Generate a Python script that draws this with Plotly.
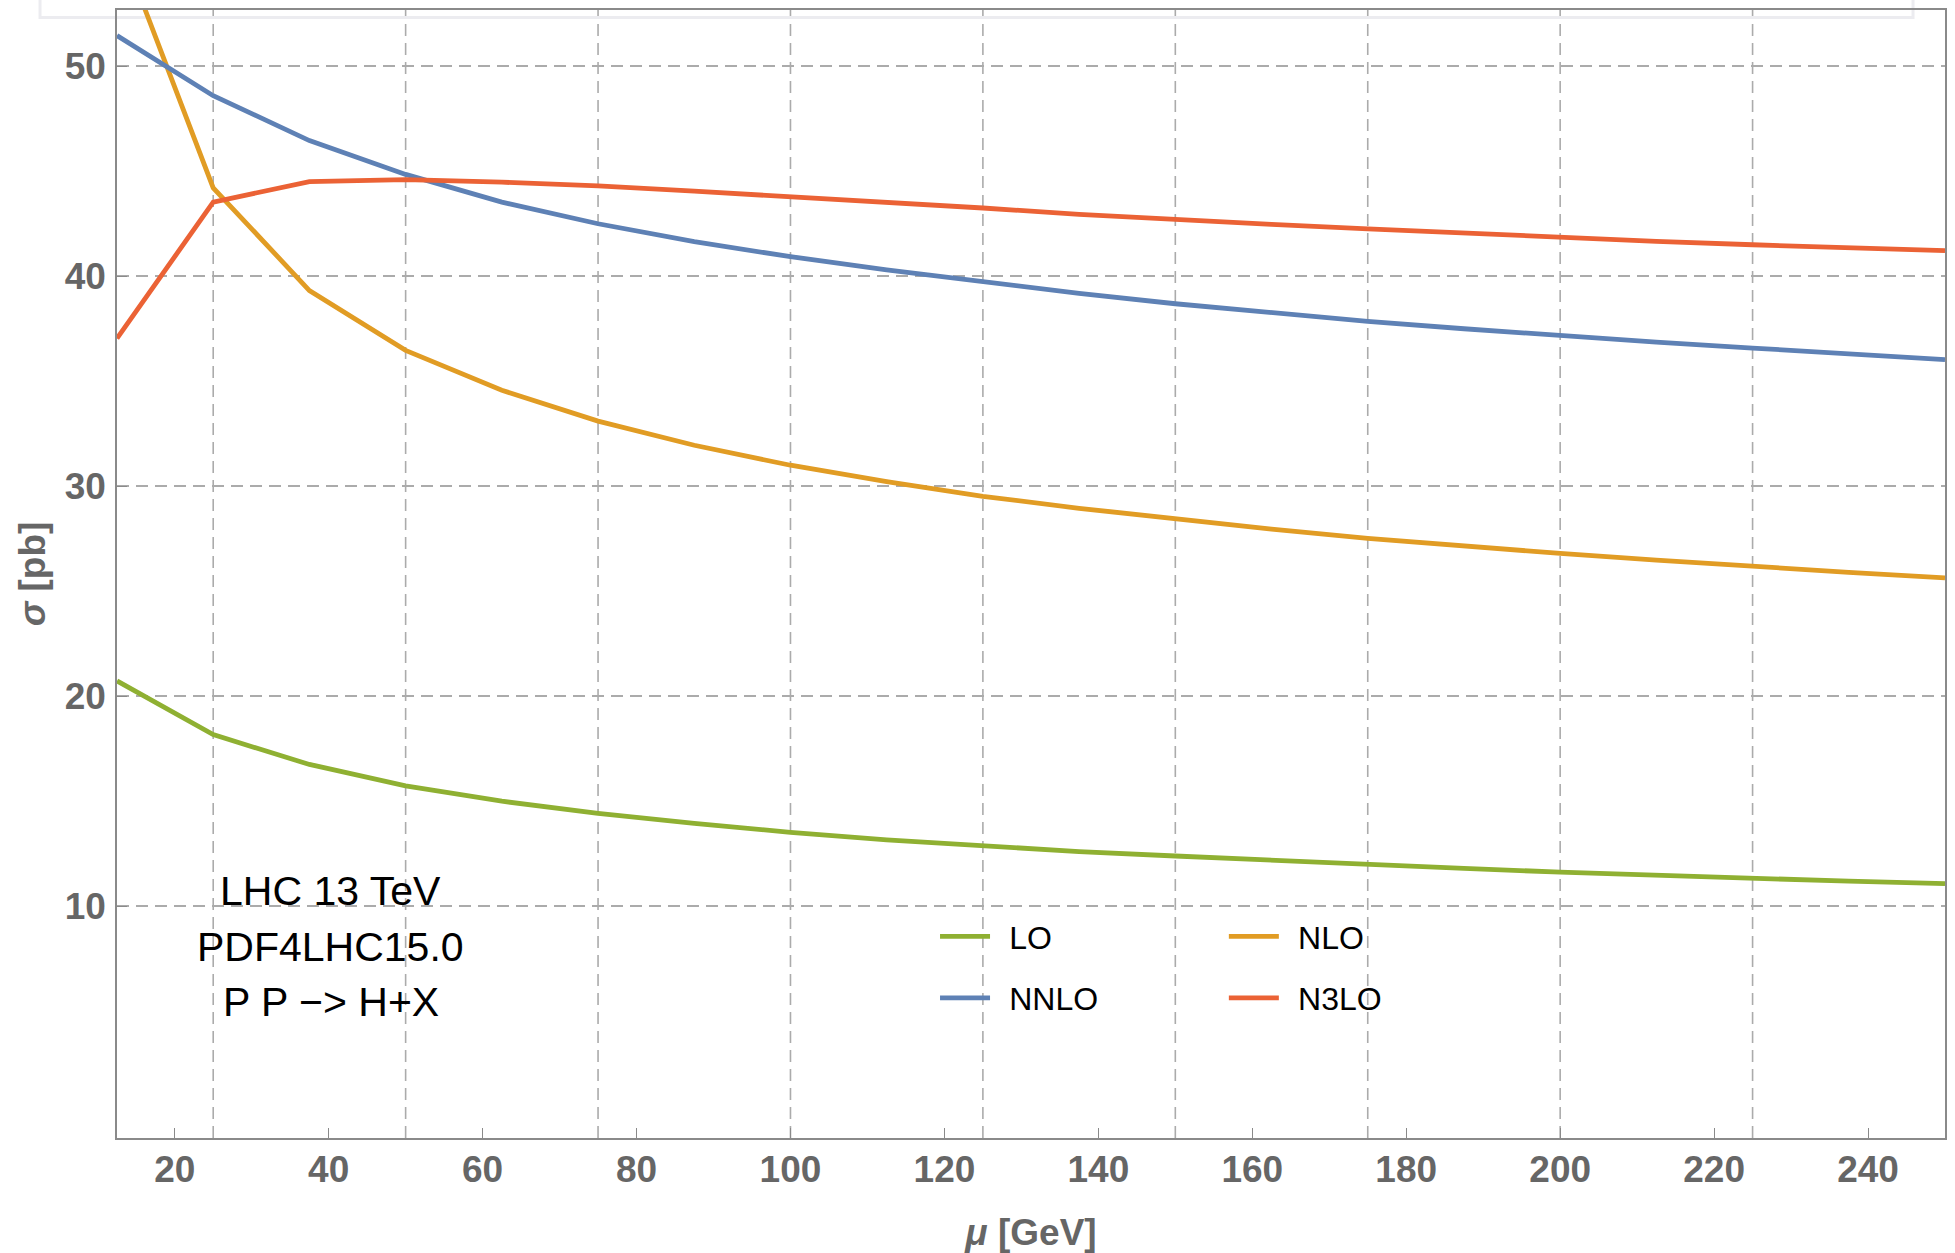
import plotly.graph_objects as go

# scale mu in GeV (multiples of m_H/10)
mu = [12.5, 25, 37.5, 50, 62.5, 75, 87.5, 100, 112.5, 125, 137.5, 150,
      162.5, 175, 187.5, 200, 212.5, 225, 237.5, 250]

lo = [20.73, 18.17, 16.75, 15.73, 15.0, 14.42, 13.94, 13.52, 13.16, 12.86,
      12.6, 12.39, 12.18, 11.99, 11.8, 11.62, 11.46, 11.32, 11.19, 11.07]
nlo = [56.2, 44.21, 39.32, 36.47, 34.57, 33.1, 31.95, 31.0, 30.22, 29.52,
       28.95, 28.43, 27.96, 27.52, 27.15, 26.8, 26.48, 26.18, 25.9, 25.64]
nnlo = [51.46, 48.6, 46.46, 44.85, 43.53, 42.5, 41.65, 40.93, 40.3, 39.72,
        39.19, 38.69, 38.26, 37.85, 37.5, 37.16, 36.86, 36.58, 36.3, 36.03]
n3lo = [37.04, 43.53, 44.51, 44.6, 44.48, 44.3, 44.05, 43.8, 43.5, 43.25,
        42.95, 42.69, 42.47, 42.26, 42.05, 41.82, 41.66, 41.5, 41.36, 41.22]

x_ticks = [20, 40, 60, 80, 100, 120, 140, 160, 180, 200, 220, 240]
y_ticks = [10, 20, 30, 40, 50]
x_grid = [25, 50, 75, 100, 125, 150, 175, 200, 225]
notes = ["LHC 13 TeV", "PDF4LHC15.0", "P P \u2212> H+X"]

C_LO, C_NLO, C_NNLO, C_N3LO = "#8FB032", "#E19C24", "#5E81B5", "#EB6235"
AX = "#8a8a8a"
LAB = "#666666"
GRID = "#ababab"
FONT = "Liberation Sans, Arial"
PAD = "\u00a0\u2006"

fig = go.Figure()
series = [
    ("LO", lo, C_LO, "legend", "g1"),
    ("NNLO", nnlo, C_NNLO, "legend", "g3"),
    ("NLO", nlo, C_NLO, "legend2", "g2"),
    ("N3LO", n3lo, C_N3LO, "legend2", "g4"),
]
order = ["LO", "NLO", "NNLO", "N3LO"]
for name in order:
    for n, ys, c, lg, grp in series:
        if n == name:
            fig.add_trace(go.Scatter(
                x=mu, y=ys, mode="lines", name=PAD + n,
                line=dict(color=c, width=4.8),
                legend=lg, legendgroup=grp, cliponaxis=True,
            ))

# vertical dashed grid lines (at multiples of 25)
for gx in x_grid:
    fig.add_shape(type="line", xref="x", yref="paper", x0=gx, x1=gx, y0=0, y1=1,
                  line=dict(color=GRID, width=1.6, dash="12px,7px"), layer="below")

# faint frame artefact at the top
fig.add_shape(type="rect", xref="paper", yref="paper",
              x0=-0.0421, x1=0.9825, y0=0.9934, y1=1.05,
              line=dict(color="#ececf0", width=3), layer="below")

ann_y = [10.71, 8.05, 5.43]
for t, yy in zip(notes, ann_y):
    fig.add_annotation(x=40.3, y=yy, xref="x", yref="y", text=t, showarrow=False,
                       xanchor="center", yanchor="middle",
                       font=dict(family=FONT, size=41, color="#000000"))

leg_common = dict(yanchor="top", xanchor="left", bgcolor="rgba(0,0,0,0)",
                  borderwidth=0, tracegroupgap=17, itemwidth=50,
                  font=dict(family=FONT, size=32, color="#000000"))
fig.update_layout(
    width=1955, height=1253,
    margin=dict(l=117, r=10, t=10, b=115, autoexpand=False),
    paper_bgcolor="white", plot_bgcolor="white",
    font=dict(family=FONT, color=LAB),
    legend=dict(x=0.4475, y=0.203, **leg_common),
    legend2=dict(x=0.6055, y=0.203, **leg_common),
    showlegend=True,
)

fig.update_xaxes(
    range=[12.5, 250], tickvals=x_ticks, ticktext=[str(v) for v in x_ticks],
    showgrid=False, zeroline=False,
    showline=True, linecolor=AX, linewidth=1.6, mirror=True,
    ticks="inside", ticklen=10, tickwidth=1.4, tickcolor=AX,
    tickfont=dict(family=FONT, size=37, color=LAB, weight="bold"),
    ticklabelstandoff=-2,
    title=dict(text="<i>\u03bc</i> [GeV]", standoff=30,
               font=dict(family=FONT, size=37, color=LAB, weight="bold")),
)
fig.update_yaxes(
    range=[-1.04, 52.68], tickvals=y_ticks, ticktext=[str(v) for v in y_ticks],
    showgrid=True, gridcolor=GRID, gridwidth=1.6, griddash="12px,7px",
    zeroline=False,
    showline=True, linecolor=AX, linewidth=1.6, mirror=True,
    ticks="inside", ticklen=10, tickwidth=1.4, tickcolor=AX,
    tickfont=dict(family=FONT, size=37, color=LAB, weight="bold"),
    ticklabelstandoff=2,
    title=dict(text="<i>\u03c3</i> [pb]", standoff=8,
               font=dict(family=FONT, size=37, color=LAB, weight="bold")),
)

fig.write_html("out.html")
